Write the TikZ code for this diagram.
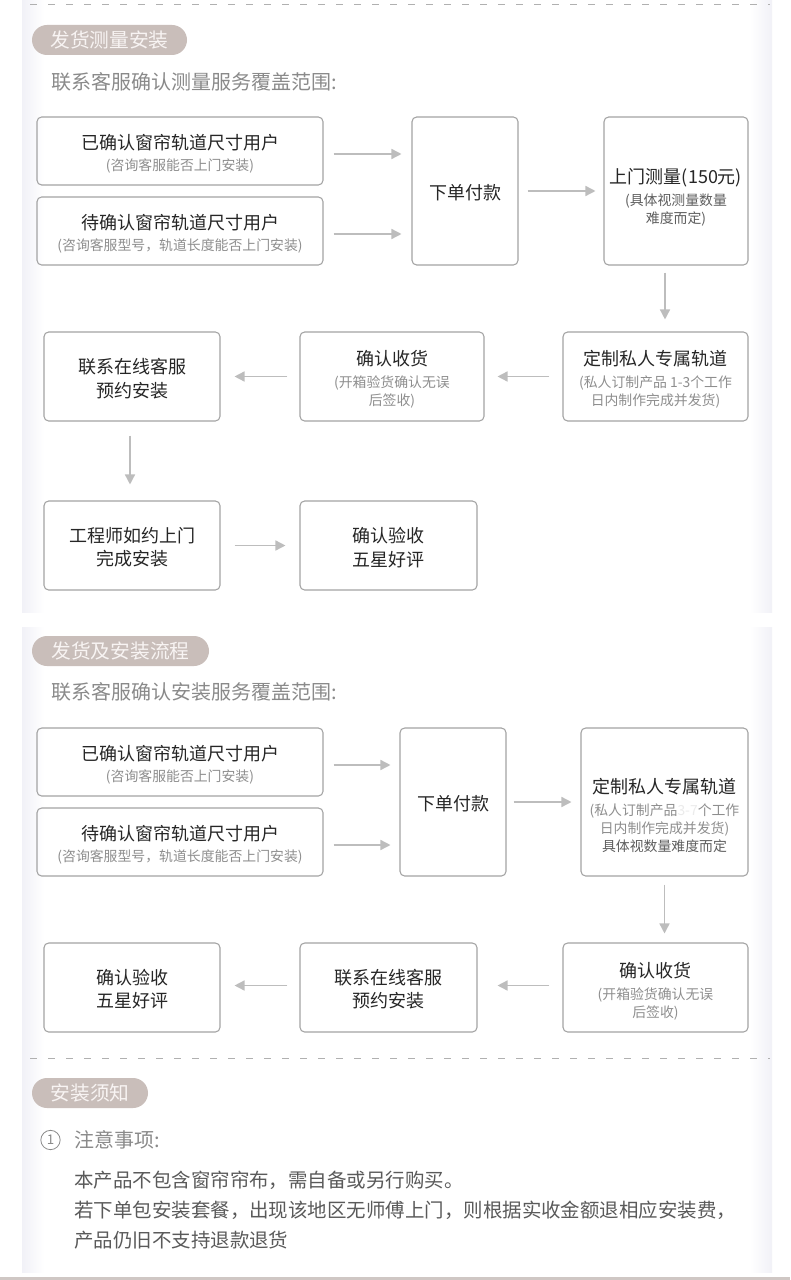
\documentclass[tikz,border=0pt]{standalone}
\usepackage{fontspec}
\setmainfont{Noto Sans CJK SC}
\usetikzlibrary{arrows.meta,calc}
\definecolor{boxline}{HTML}{A3A3A3}
\definecolor{arrowc}{HTML}{BDBDBD}
\definecolor{maintxt}{HTML}{262626}
\definecolor{subtxt}{HTML}{8E8E8E}
\definecolor{subdark}{HTML}{5E5E5E}
\definecolor{pillfill}{HTML}{C9BEBA}
\definecolor{pilltxt}{HTML}{F8F4F3}
\definecolor{graytxt}{HTML}{8A8A8A}
\definecolor{bodytxt}{HTML}{5A5A5A}
\definecolor{strip}{HTML}{F1F1F7}
\definecolor{faint}{HTML}{EBEBEB}
\definecolor{dashc}{HTML}{B0B0B0}
\definecolor{bottomline}{HTML}{CFC7C4}
\newcommand\mainf{\fontsize{13.5}{13.5}\selectfont\color{maintxt}}
\newcommand\subf{\fontsize{10.4}{13.5}\selectfont\color{subtxt}}
\newcommand\subd{\fontsize{10.4}{13.5}\selectfont\color{subdark}}
\tikzset{
  wh/.style 2 args={minimum width=#1*0.75pt, minimum height=#2*0.75pt},
  box/.style={draw=boxline, line width=0.8pt, rounded corners=3.5pt, inner sep=0pt},
  txt/.style={inner sep=0pt, align=center, font=\fontsize{10.4}{13.5}\selectfont},
  arr/.style={draw=arrowc, line width=1.1pt, -{Triangle[length=7.5pt,width=7.5pt]}},
  pill/.style={fill=pillfill, rounded corners=11.25pt, minimum height=22.5pt,
    inner sep=0pt, text=pilltxt, font=\fontsize{14.8}{14.8}\selectfont},
  subtitle/.style={anchor=west, inner sep=0pt, text=graytxt, font=\fontsize{15}{15}\selectfont},
  body/.style={anchor=west, inner sep=0pt, text=bodytxt, font=\fontsize{14.6}{14.6}\selectfont},
  dashline/.style={draw=dashc, line width=0.75pt, dash pattern=on 5.25pt off 8.25pt},
}
\begin{document}
\begin{tikzpicture}[x=0.75pt, y=-0.75pt]
\fill[white] (0,0) rectangle (790,1280);
\useasboundingbox (0,0) rectangle (790,1280);
% side strips
\shade[left color=strip, right color=white] (22,0) rectangle (44,612);
\shade[left color=white, right color=strip] (750,0) rectangle (772,612);
\shade[left color=strip, right color=white] (22,627) rectangle (44,1272);
\shade[left color=white, right color=strip] (750,627) rectangle (772,1272);
\fill[bottomline] (0,1276.5) rectangle (790,1279.5);
% separators
\draw[dashline] (30,5) -- (770,5);
\draw[dashline] (30,1058) -- (770,1058);

% ===== Section 1 =====
\node[pill, minimum width=155*0.75pt] (p1) at (109.5,40) {发货测量安装};
\node[subtitle] (s1) at (51,82) {联系客服确认测量服务覆盖范围:};

\node[box, wh={286}{68}] (a1) at (180,151) {};
\node[txt] (a1t) at ($(a1.center)+(0,3)$)
  {{\mainf 已确认窗帘轨道尺寸用户}\\[2pt]{\subf (咨询客服能否上门安装)}};
\node[box, wh={286}{68}] (a2) at (180,231) {};
\node[txt] (a2t) at ($(a2.center)+(0,3)$)
  {{\mainf 待确认窗帘轨道尺寸用户}\\[2pt]{\subf (咨询客服型号，轨道长度能否上门安装)}};
\node[box, wh={106}{148}] (b) at (465,191) {};
\node[txt] (bt) at ($(b.center)+(0,2)$) {{\mainf 下单付款}};
\node[box, wh={144}{148}] (c) at (676,191) {};
\node[txt] (ct) at ($(c.center)+(0,6)$)
  {{\mainf 上门测量(150元)}\\[3pt]{\subd (具体视测量数量}\\{\subd 难度而定)}};
\node[box, wh={185}{89}] (d) at (655.5,376.5) {};
\node[txt] (dt) at ($(d.center)+(0,3)$)
  {{\mainf 定制私人专属轨道}\\[3pt]{\subf (私人订制产品 1-3个工作}\\{\subf 日内制作完成并发货)}};
\node[box, wh={184}{89}] (e) at (392,376.5) {};
\node[txt] (et) at ($(e.center)+(0,3)$)
  {{\mainf 确认收货}\\[3pt]{\subf (开箱验货确认无误}\\{\subf 后签收)}};
\node[box, wh={176}{89}] (f) at (132,376.5) {};
\node[txt] (ft) at ($(f.center)+(0,2)$)
  {{\mainf 联系在线客服}\\[4pt]{\mainf 预约安装}};
\node[box, wh={176}{89}] (g) at (132,545.5) {};
\node[txt] (gt) at ($(g.center)+(0,2)$)
  {{\mainf 工程师如约上门}\\[4pt]{\mainf 完成安装}};
\node[box, wh={177}{89}] (h) at (388.5,545.5) {};
\node[txt] (ht) at ($(h.center)+(0,2)$)
  {{\mainf 确认验收}\\[4pt]{\mainf 五星好评}};

\draw[arr, shorten <=7.5pt, shorten >=7.5pt] ([yshift=-2.25pt]a1.east) -- ([yshift=-2.25pt]a1.east -| b.west);
\draw[arr, shorten <=7.5pt, shorten >=7.5pt] ([yshift=-2.25pt]a2.east) -- ([yshift=-2.25pt]a2.east -| b.west);
\draw[arr, shorten <=6.75pt, shorten >=6pt] (b.east) -- (b.east -| c.west);
\draw[arr, shorten <=5.25pt, shorten >=9pt] ([xshift=-8.25pt]c.south) -- ([xshift=-8.25pt]c.south |- d.north);
\draw[arr, shorten <=9.75pt, shorten >=9.75pt] (d.west) -- (d.west -| e.east);
\draw[arr, shorten <=9pt, shorten >=10.5pt] (e.west) -- (e.west -| f.east);
\draw[arr, shorten <=10.5pt, shorten >=12pt] ([xshift=-1.5pt]f.south) -- ([xshift=-1.5pt]f.south |- g.north);
\draw[arr, shorten <=10.5pt, shorten >=10.5pt] (g.east) -- (g.east -| h.west);

% ===== Section 2 =====
\node[pill, minimum width=177*0.75pt] (p2) at (120.5,651) {发货及安装流程};
\node[subtitle] (s2) at (51,692) {联系客服确认安装服务覆盖范围:};

\node[box, wh={286}{68}] (a3) at (180,762) {};
\node[txt] (a3t) at ($(a3.center)+(0,3)$)
  {{\mainf 已确认窗帘轨道尺寸用户}\\[2pt]{\subf (咨询客服能否上门安装)}};
\node[box, wh={286}{68}] (a4) at (180,842) {};
\node[txt] (a4t) at ($(a4.center)+(0,3)$)
  {{\mainf 待确认窗帘轨道尺寸用户}\\[2pt]{\subf (咨询客服型号，轨道长度能否上门安装)}};
\node[box, wh={106}{148}] (b2) at (453,802) {};
\node[txt] (b2t) at ($(b2.center)+(0,2)$) {{\mainf 下单付款}};
\node[box, wh={167}{148}] (c2) at (664.5,802) {};
\node[txt] (c2t) at ($(c2.center)+(0,13)$)
  {{\mainf 定制私人专属轨道}\\[3pt]{\subf (私人订制产品{\color{faint}3-7}个工作}\\{\subf 日内制作完成并发货)}\\{\subd 具体视数量难度而定}};
\node[box, wh={185}{89}] (d2) at (655.5,987.5) {};
\node[txt] (d2t) at ($(d2.center)+(0,4)$)
  {{\mainf 确认收货}\\[3pt]{\subf (开箱验货确认无误}\\{\subf 后签收)}};
\node[box, wh={177}{89}] (e2) at (388.5,987.5) {};
\node[txt] (e2t) at ($(e2.center)+(0,1.5)$)
  {{\mainf 联系在线客服}\\[4pt]{\mainf 预约安装}};
\node[box, wh={176}{89}] (f2) at (132,987.5) {};
\node[txt] (f2t) at ($(f2.center)+(0,1.5)$)
  {{\mainf 确认验收}\\[4pt]{\mainf 五星好评}};

\draw[arr, shorten <=7.5pt, shorten >=6.75pt] ([yshift=-2.25pt]a3.east) -- ([yshift=-2.25pt]a3.east -| b2.west);
\draw[arr, shorten <=7.5pt, shorten >=6.75pt] ([yshift=-2.25pt]a4.east) -- ([yshift=-2.25pt]a4.east -| b2.west);
\draw[arr, shorten <=5.25pt, shorten >=6.75pt] (b2.east) -- (b2.east -| c2.west);
\draw[arr, shorten <=6pt, shorten >=6.75pt] (c2.south) -- (c2.south |- d2.north);
\draw[arr, shorten <=9.75pt, shorten >=15pt] ([yshift=1.5pt]d2.west) -- ([yshift=1.5pt]d2.west -| e2.east);
\draw[arr, shorten <=9pt, shorten >=10.5pt] ([yshift=1.5pt]e2.west) -- ([yshift=1.5pt]e2.west -| f2.east);

% ===== Section 3 =====
\node[pill, minimum width=116*0.75pt] (p3) at (90,1093) {安装须知};
\node[circle, draw=graytxt, line width=0.6pt, minimum size=14.5pt, inner sep=0pt,
  text=graytxt, font=\fontsize{10}{10}\selectfont] (n1) at (50.5,1140) {1};
\node[subtitle] (nt) at (74,1140) {注意事项:};
\node[body] (l1) at (74,1180) {本产品不包含窗帘帘布，需自备或另行购买。};
\node[body] (l2) at (74,1210) {若下单包安装套餐，出现该地区无师傅上门，则根据实收金额退相应安装费，};
\node[body] (l3) at (74,1240) {产品仍旧不支持退款退货};
\end{tikzpicture}
\end{document}
